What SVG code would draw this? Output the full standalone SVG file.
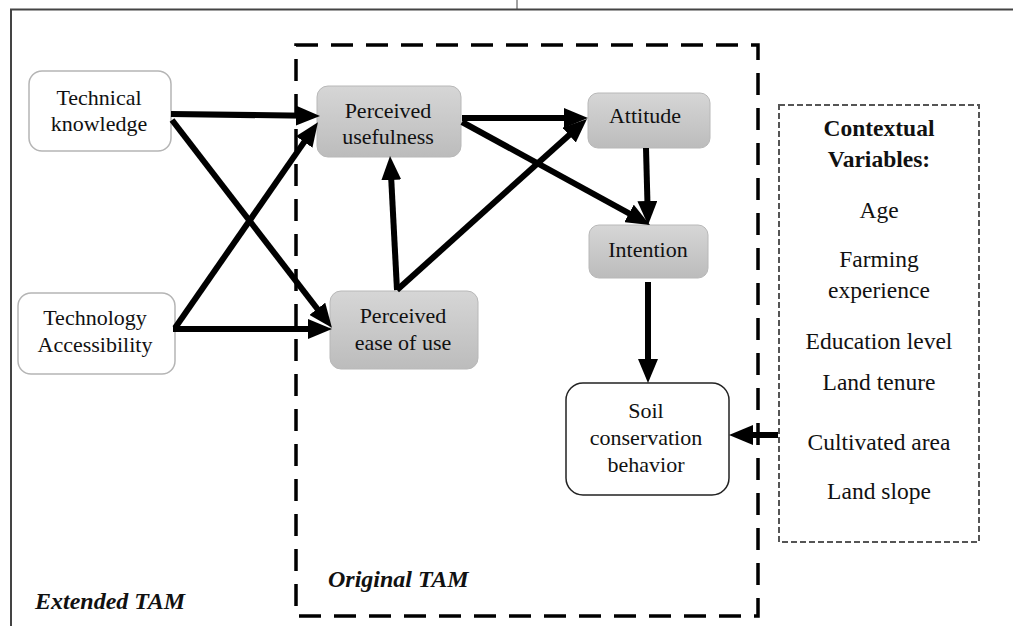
<svg xmlns="http://www.w3.org/2000/svg" width="1013" height="626" viewBox="0 0 1013 626">
<style>
text{font-family:"Liberation Serif","Tinos","Times New Roman","DejaVu Serif",serif;fill:#111;text-anchor:middle}
.n{font-size:22px}
.c{font-size:23.5px}
.b{font-weight:bold}
.bi{font-weight:bold;font-style:italic;font-size:24px;text-anchor:start}
.wbox{fill:#fff;stroke:#b5b5b5;stroke-width:1.5}
.gbox{fill:url(#g);stroke:#b8b8b8;stroke-width:1}
.arr{stroke:#000;stroke-width:6;fill:none;marker-end:url(#ah)}
</style>
<defs>
<linearGradient id="g" x1="0" y1="0" x2="0" y2="1">
<stop offset="0" stop-color="#d6d6d6"/>
<stop offset="1" stop-color="#bcbcbc"/>
</linearGradient>
<marker id="ah" markerUnits="userSpaceOnUse" markerWidth="24" markerHeight="20" viewBox="0 0 24 20" refX="11" refY="10" orient="auto">
<path d="M0,0 L24,10 L0,20 z" fill="#000"/>
</marker>
</defs>
<rect width="1013" height="626" fill="#fff"/>
<g id="frame" stroke="#444" stroke-width="2" fill="none">
<path d="M11,626 V9.5 H1013"/>
<path d="M517,0 V9" stroke-width="1"/>
</g>
<g id="original-tam">
<rect x="296" y="45" width="462" height="571" fill="none" stroke="#000" stroke-width="3.5" stroke-dasharray="22 13"/>
<text class="bi" x="328" y="587" font-family="Liberation Serif, serif">Original TAM</text>
</g>
<text id="extended-tam" class="bi" x="35" y="609" font-family="Liberation Serif, serif">Extended TAM</text>
<g id="technical-knowledge">
<rect class="wbox" x="29" y="71" width="142" height="80" rx="13"/>
<text class="n" x="99" y="105">Technical</text>
<text class="n" x="99" y="131">knowledge</text>
</g>
<g id="technology-accessibility">
<rect class="wbox" x="18" y="293" width="157" height="81" rx="13"/>
<text class="n" x="95" y="325">Technology</text>
<text class="n" x="95" y="352">Accessibility</text>
</g>
<g id="perceived-usefulness">
<rect class="gbox" x="317" y="86" width="144" height="71" rx="11"/>
<text class="n" x="388" y="118">Perceived</text>
<text class="n" x="388" y="144">usefulness</text>
</g>
<g id="perceived-ease-of-use">
<rect class="gbox" x="330" y="291" width="148" height="78" rx="11"/>
<text class="n" x="403" y="323">Perceived</text>
<text class="n" x="403" y="350">ease of use</text>
</g>
<g id="attitude">
<rect class="gbox" x="588" y="93" width="122" height="55" rx="10"/>
<text class="n" x="645" y="123">Attitude</text>
</g>
<g id="intention">
<rect class="gbox" x="589" y="225" width="119" height="53" rx="10"/>
<text class="n" x="648" y="257">Intention</text>
</g>
<g id="soil-conservation-behavior">
<rect x="566" y="383" width="163" height="112" rx="17" fill="#fff" stroke="#222" stroke-width="1.5"/>
<text class="n" x="646" y="418">Soil</text>
<text class="n" x="646" y="445">conservation</text>
<text class="n" x="646" y="472">behavior</text>
</g>
<g id="contextual-variables">
<rect x="779" y="105" width="200" height="437" fill="#fff" stroke="#555" stroke-width="2" stroke-dasharray="6 3"/>
<text class="c b" x="879" y="136">Contextual</text>
<text class="c b" x="879" y="167">Variables:</text>
<text class="c" x="879" y="218">Age</text>
<text class="c" x="879" y="267">Farming</text>
<text class="c" x="879" y="298">experience</text>
<text class="c" x="879" y="349">Education level</text>
<text class="c" x="879" y="390">Land tenure</text>
<text class="c" x="879" y="450">Cultivated area</text>
<text class="c" x="879" y="499">Land slope</text>
</g>
<g id="connectors">
<path class="arr" d="M171,114 L307,115.8"/>
<path class="arr" d="M172,120 L324,317.5"/>
<path class="arr" d="M175,328 L310.5,132.9"/>
<path class="arr" d="M173,329 L319,329"/>
<path class="arr" d="M397,290 L390.7,169"/>
<path class="arr" d="M397,290 L577.3,127.7"/>
<path class="arr" d="M462,118 L575,118"/>
<path class="arr" d="M462,122 L638.6,218.7"/>
<path class="arr" d="M646,148 L647.7,212"/>
<path class="arr" d="M648,282 L648,370"/>
<path class="arr" d="M778,435 L742,435"/>
</g>
</svg>
